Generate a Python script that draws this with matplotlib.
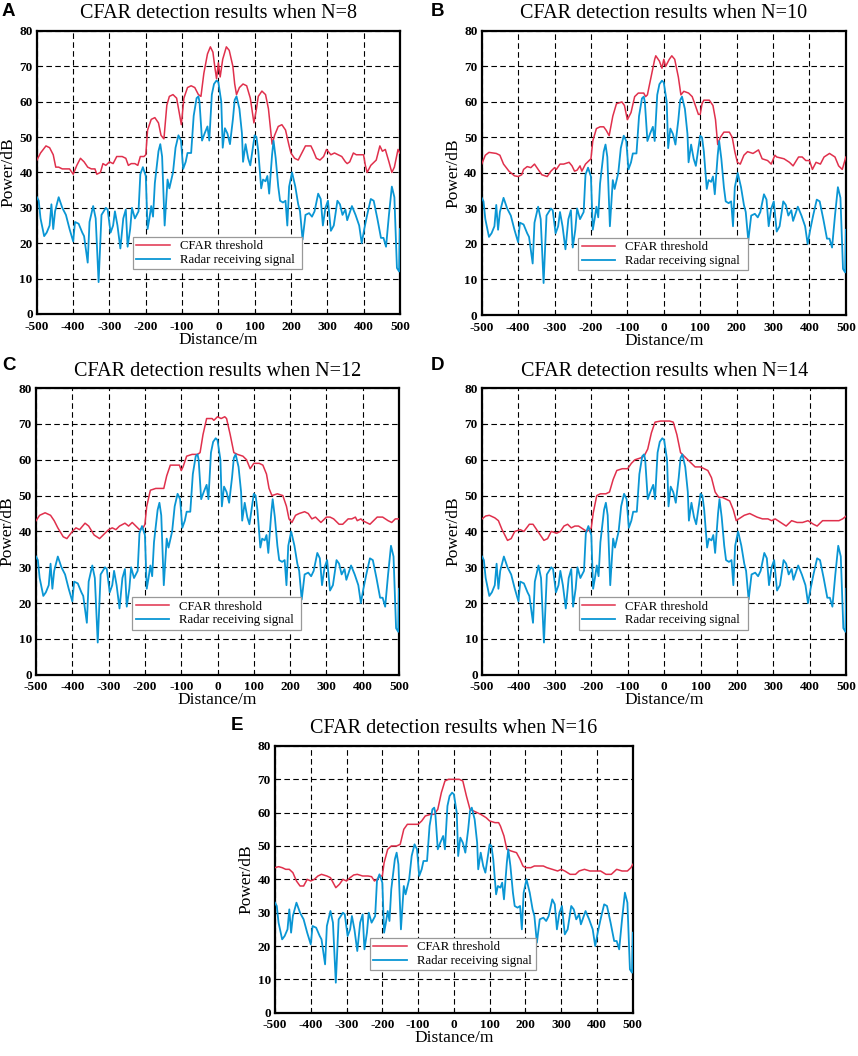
import matplotlib
matplotlib.use("Agg")
import matplotlib.pyplot as plt

# received radar signal (identical in every panel)
sig_x = [-500, -495, -490, -480, -473, -465, -460, -455, -450, -440, -430, -420, -410, -400,
         -395, -385, -375, -370, -360, -355, -345, -338, -330, -322, -310, -305, -297, -290,
         -285, -278, -270, -262, -255, -250, -243, -238, -230, -220, -215, -208, -200, -195,
         -190, -185, -180, -175, -165, -160, -155, -148, -140, -135, -125, -118, -110, -103,
         -97, -90, -85, -75, -68, -60, -55, -52, -45, -38, -30, -25, -18, -12, -5, 0,
         5, 8, 12, 18, 25, 32, 40, 45, 50, 58, 65, 68, 75, 82, 88, 95, 100, 105, 110,
         118, 123, 130, 135, 140, 148, 152, 158, 165, 170, 178, 185, 190, 195, 203, 212,
         220, 225, 232, 240, 250, 258, 265, 275, 282, 288, 295, 302, 310, 318, 328, 335,
         342, 350, 355, 368, 378, 388, 395, 402, 410, 420, 428, 438, 448, 455, 462, 470,
         478, 485, 492, 498, 500]
sig_y = [33, 32, 27, 22, 23, 25, 31, 24, 29, 33, 30, 28, 24, 20.5,
         26, 25.5, 23, 22, 14.5, 26, 30.5, 27, 9, 28, 30, 29.5, 23, 25,
         29, 25, 18.5, 27, 29.5, 19, 24, 30, 27, 29, 39.5, 41.5, 39, 24,
         27, 30.5, 27.5, 37, 46, 48, 44.5, 25, 38, 35.5, 40, 47, 50.5, 49,
         41, 43, 45.5, 45.5, 56, 61, 61.5, 60, 49, 51, 53, 49, 62, 65, 66, 65.5,
         62, 60, 47, 52.5, 51, 48, 55, 60.5, 61.5, 58, 51, 43, 48, 44, 42, 47, 50.5, 50, 46,
         35.5, 38, 37.5, 39, 34, 45, 49, 44, 36, 32, 31.5, 32, 25, 36, 40, 36,
         31, 29, 21, 28, 28.5, 27.5, 29, 34, 32.5, 25, 30, 32, 23.5, 25, 32, 31,
         28, 29.5, 26.5, 30.5, 28, 25, 20, 24, 28, 32.5, 32, 27, 21.5, 21.5, 19, 28,
         36, 33, 13, 12, 24]

# CFAR thresholds
thr8_x = [-500, -490, -475, -465, -455, -448, -440, -430, -420, -410, -400, -390, -380, -370,
          -360, -350, -340, -335, -325, -318, -310, -300, -290, -280, -265, -255, -248, -240,
          -230, -222, -215, -205, -200, -195, -185, -175, -165, -158, -150, -142, -135, -125,
          -115, -108, -102, -95, -85, -75, -65, -55, -48, -40, -30, -22, -15, -10, -5, 0,
          5, 12, 22, 30, 40, 45, 50, 58, 68, 78, 88, 98, 105, 110, 120, 130, 138, 148,
          155, 165, 175, 185, 195, 200, 210, 220, 230, 240, 255, 262, 270, 280, 290, 298,
          310, 320, 330, 340, 350, 355, 362, 372, 380, 392, 400, 405, 410, 420, 435, 445,
          452, 460, 470, 478, 485, 495, 500]
thr8_y = [43.5, 45.5, 47.5, 47, 45, 41.5, 41.5, 41, 41, 41, 39.5, 42, 44, 43,
          41.5, 41, 41, 39.5, 40, 42.5, 42, 43, 42.5, 44.5, 44.5, 44, 42, 42.5,
          42.5, 42, 44.5, 44.5, 45, 52, 55, 55.5, 54, 50.5, 49.5, 59, 61.5, 62,
          61, 57, 53.5, 61, 64, 64.5, 64, 62, 61.5, 68, 73.5, 75.5, 74, 70, 66.5, 71,
          67, 72, 75.5, 74.5, 70, 65, 62, 64, 65, 64.5, 61, 54, 58, 61.5, 63, 62, 58, 48,
          50.5, 53, 53.5, 52, 47.5, 45.5, 44, 43.5, 45.5, 47.5, 47.5, 46, 44, 43.5, 44.5, 46.5,
          45, 45.5, 45, 44.5, 43, 42.5, 43, 45.5, 45, 45, 45, 42, 40, 42, 43.5, 47.5,
          46, 46.5, 43, 40, 41.5, 46.5, 45.5]

thr10_x = [-500, -490, -480, -460, -450, -440, -425, -410, -400, -390, -385, -375, -365, -355,
           -345, -335, -320, -310, -300, -295, -285, -275, -260, -252, -245, -238, -230, -225,
           -215, -205, -200, -195, -185, -175, -165, -158, -150, -140, -130, -115, -108, -100,
           -90, -80, -70, -55, -50, -45, -35, -25, -22, -12, -5, 0, 5, 15, 22, 30, 40, 47,
           55, 68, 78, 85, 95, 100, 105, 110, 125, 135, 142, 148, 155, 165, 180, 188, 195,
           202, 210, 220, 230, 245, 260, 270, 285, 295, 305, 310, 330, 345, 355, 370, 380,
           390, 400, 408, 418, 430, 440, 455, 470, 480, 490, 500]
thr10_y = [42.5, 45, 45.8, 45.5, 45, 42.5, 40.5, 39.2, 39, 39.5, 41, 41.8, 41.5, 42.5,
           41, 39.5, 39, 40.5, 41.5, 41, 42.5, 42.5, 43, 42, 40.5, 40.8, 42, 40.5,
           42.5, 43.5, 44, 49, 52.5, 53, 53, 52, 50.5, 56, 59.5, 60, 59, 55,
           57, 61.5, 62.5, 62.5, 61.5, 62, 67, 72, 73, 71.5, 69.5, 72, 70, 72, 73, 72, 67, 62,
           63, 62.5, 61.5, 59.5, 56.5, 56.5, 59.5, 60.5, 60.5, 59, 55, 48, 50, 51.5, 51.5, 50, 46,
           43, 42.5, 45, 46, 45.5, 46.5, 44, 43.5, 42.5, 45, 44.5, 44, 43, 42, 44.5, 44.5,
           43.5, 43.5, 41, 43, 42.5, 44.5, 45.5, 44.5, 42, 41, 44.5]

thr12_x = [-500, -490, -475, -460, -450, -440, -425, -415, -400, -390, -380, -365, -355, -340,
           -325, -315, -300, -290, -280, -270, -255, -245, -235, -225, -215, -205, -200, -195,
           -185, -170, -155, -148, -140, -130, -115, -105, -100, -95, -85, -70, -55, -48,
           -40, -30, -15, -10, 0, 10, 20, 25, 35, 45, 55, 70, 80, 90, 100, 115, 125, 135,
           142, 150, 165, 180, 190, 197, 205, 215, 225, 240, 250, 260, 270, 285, 300, 310,
           320, 335, 345, 360, 370, 380, 385, 395, 400, 410, 420, 430, 440, 455, 470, 480,
           490, 500]
thr12_y = [43, 44.5, 45.2, 44.5, 43, 41, 38.5, 38, 40, 41, 40.5, 42.3, 41.5, 39,
           38, 39, 40.5, 41, 40.5, 41.5, 42.3, 41.5, 42.5, 41.5, 40.5, 41, 42, 47,
           51.5, 52, 52, 52, 55.5, 58.5, 58.5, 58.5, 57, 58, 61, 61.5, 61.5, 62,
           67, 71.5, 71.5, 71, 72, 71.5, 72, 71.5, 67, 62, 61.5, 61, 60, 57.5, 59, 59, 58.5, 56,
           52, 50, 50.5, 50, 47, 43.5, 42.5, 44.5, 45, 45.5, 45, 43.5, 44, 42.5, 44, 44,
           43.5, 42, 42, 43.5, 43.5, 44, 43, 43.5, 43, 42.5, 42, 43, 44, 44, 43, 42.5,
           43.5, 43.5]

thr14_x = [-500, -490, -480, -465, -455, -445, -430, -420, -410, -395, -385, -370, -360, -350,
           -340, -330, -320, -310, -295, -285, -275, -265, -255, -245, -235, -220, -212, -205,
           -200, -195, -185, -175, -160, -150, -140, -130, -115, -100, -90, -80, -65, -55,
           -45, -35, -25, -10, 0, 15, 25, 35, 45, 55, 65, 75, 85, 100, 110, 120, 130, 140,
           150, 160, 170, 180, 190, 198, 205, 220, 235, 245, 255, 270, 285, 295, 305, 320,
           335, 350, 365, 380, 395, 410, 420, 435, 450, 465, 480, 490, 500]
thr14_y = [43.5, 44.3, 44.5, 43.8, 43, 40.5, 37.5, 38, 40, 40.5, 40, 42, 42, 40.5,
           39, 37.5, 38, 40, 39.5, 40, 41.5, 42, 41, 41.5, 41.5, 40.5, 40, 40.5,
           41, 45, 50, 50.5, 50.5, 51, 54.5, 57, 57.5, 57.5, 59, 60, 60.5, 61,
           63, 67.5, 70.5, 70.8, 70.8, 70.8, 70.5, 67, 62, 61, 60, 59, 58, 58, 57.5, 57, 55, 51,
           49.5, 49.5, 49, 48.5, 46, 43, 43.5, 44.5, 45, 44.5, 44, 43.5, 43.5, 43, 43.5, 42.5,
           41.5, 43, 42.5, 42.5, 43, 42, 41.5, 43, 43, 43, 43, 43.5, 44.3]

thr16_x = [-500, -490, -480, -470, -460, -450, -440, -430, -420, -410, -400, -390, -380, -370,
           -355, -345, -340, -330, -320, -310, -300, -290, -280, -270, -255, -240, -230, -222,
           -215, -205, -200, -195, -185, -175, -160, -150, -140, -130, -115, -100, -90, -80,
           -65, -55, -45, -35, -25, -15, 0, 15, 25, 35, 45, 55, 65, 75, 90, 100, 115, 125,
           130, 140, 148, 160, 175, 185, 193, 200, 215, 225, 240, 250, 260, 275, 290, 300,
           310, 325, 340, 350, 365, 380, 395, 410, 425, 440, 455, 470, 485, 495, 500]
thr16_y = [43.5, 43.8, 43.5, 43, 43, 42, 39.5, 38, 38, 40, 39.5, 40, 41, 41.5,
           41, 40.5, 39.5, 37.5, 38.5, 40, 39.5, 40.5, 41.3, 41.5, 41, 41, 40.8, 39.5,
           40, 41, 41, 45, 49, 50, 50, 50.5, 55, 56.5, 56.5, 56.5, 57.5, 59,
           59.5, 59.5, 61, 66, 69.5, 70, 70, 70, 69.5, 65, 61, 60.5, 60, 59.5, 58.5, 57.5, 57, 57,
           56, 53, 49, 48.5, 48, 46, 44, 43.5, 43.5, 44, 44, 44, 43.5, 43, 42.5, 43,
           42.5, 41.5, 41.5, 42.5, 43, 42.5, 42.5, 42.5, 41.5, 41.5, 43, 42.5, 42.5, 43.5, 44.5]

panel_letters = ["A", "B", "C", "D", "E"]
panel_n = [8, 10, 12, 14, 16]
thresholds = [(thr8_x, thr8_y), (thr10_x, thr10_y), (thr12_x, thr12_y),
              (thr14_x, thr14_y), (thr16_x, thr16_y)]

x_ticks = list(range(-500, 501, 100))
y_ticks = list(range(0, 81, 10))

RED = "#E0304C"
BLUE = "#0A96D4"
SERIF = "Liberation Serif"

# axes rectangles in figure fractions (left, bottom, width, height)
rects = [
    (0.043, 0.7027, 0.423, 0.268),
    (0.5614, 0.7017, 0.4245, 0.269),
    (0.042, 0.361, 0.423, 0.2715),
    (0.5618, 0.361, 0.4245, 0.2715),
    (0.3205, 0.041, 0.417, 0.2526),
]
xpads = [5, 5, 4.5, 4.5, 4.5]
# where the panel letters sit (pixels from top-left)
letter_pos = [(2, 3), (431, 3), (2, 357), (431, 357), (231, 717)]

W, H = 858, 1056
fig = plt.figure(figsize=(W / 100, H / 100), dpi=100)

for i in range(5):
    ax = fig.add_axes(rects[i])
    tx, ty = thresholds[i]
    ax.plot(tx, ty, color=RED, lw=1.1, label="CFAR threshold", zorder=3)
    ax.plot(sig_x, sig_y, color=BLUE, lw=1.3, label="Radar receiving signal", zorder=3)

    ax.set_xlim(-500, 500)
    ax.set_ylim(0, 80)
    ax.set_xticks(x_ticks)
    ax.set_yticks(y_ticks)
    ax.set_xticklabels([str(v) for v in x_ticks], fontfamily=SERIF, fontweight="bold", fontsize=9.5)
    ax.set_yticklabels([str(v) for v in y_ticks], fontfamily=SERIF, fontweight="bold", fontsize=9.5)
    ax.tick_params(direction="in", length=3, width=0.8)
    ax.tick_params(axis="x", pad=xpads[i])
    ax.tick_params(axis="y", pad=3)
    ax.grid(True, color="black", ls=(0, (5, 3)), lw=0.8)
    for sp in ax.spines.values():
        sp.set_linewidth(1.6)

    ax.set_title(f"CFAR detection results when N={panel_n[i]}", fontfamily=SERIF,
                 fontsize=14.5, pad=9)
    ax.set_xlabel("Distance/m", fontfamily=SERIF, fontsize=12.5, labelpad=-0.5)
    ax.set_ylabel("Power/dB", fontfamily=SERIF, fontsize=12.5, labelpad=2)

    leg = ax.legend(loc="lower left", bbox_to_anchor=(0.248, 0.135, 0.5, 0.1), mode="expand",
                    fancybox=False, framealpha=1, edgecolor="#999999",
                    prop={"family": SERIF, "size": 9.2}, handlelength=2.6,
                    handletextpad=0.8, borderpad=0.25, labelspacing=0.15)
    leg.get_frame().set_linewidth(0.9)
    leg.set_zorder(5)

    lx, ly = letter_pos[i]
    fig.text(lx / W, 1 - ly / H, panel_letters[i], fontfamily="Liberation Sans",
             fontweight="bold", fontsize=13.5, va="top", ha="left")

fig.savefig("out.png", dpi=100)
